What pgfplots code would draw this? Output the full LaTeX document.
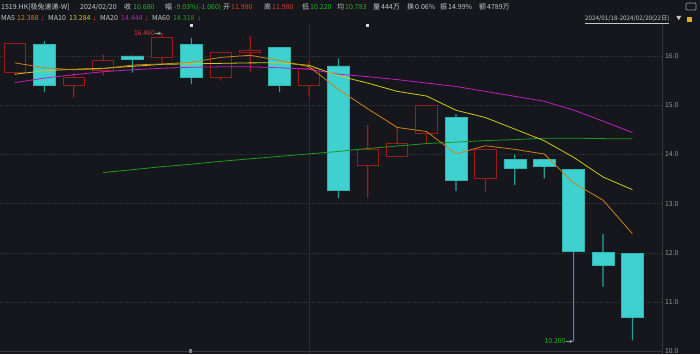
\documentclass[border=0pt]{standalone}
\usepackage{pgfplots}
\pgfplotsset{compat=1.18}
\usepackage{fontspec}
\setmainfont{Noto Sans CJK SC}
\definecolor{bg}{HTML}{15171C}
\definecolor{gridc}{HTML}{2A2D33}
\definecolor{framec}{HTML}{33363C}
\definecolor{upred}{HTML}{9A1B1B}
\definecolor{dncyan}{HTML}{3FD0D0}
\definecolor{dnedge}{HTML}{30B4B4}
\definecolor{wickc}{HTML}{2A9FA0}
\definecolor{maf}{HTML}{CC8418}
\definecolor{mat}{HTML}{CFCB1E}
\definecolor{matw}{HTML}{C21FC2}
\definecolor{mas}{HTML}{1E9A1E}
\definecolor{txt}{HTML}{C8C8C8}
\definecolor{tgreen}{HTML}{22B622}
\definecolor{tred}{HTML}{E0393A}
\definecolor{tickc}{HTML}{9A9A9A}
\definecolor{lockc}{HTML}{E0B020}
\pgfplotsset{common/.style={at={(0pt,0pt)}, anchor=south west, scale only axis,
  width=662pt, height=330pt, xmin=0.49, xmax=23.007, ymin=9.943, ymax=16.65}}
\newcommand{\hA}[3]{\node[anchor=base west, inner sep=0pt, text=#2] at (#1,344.5) {#3};}
\newcommand{\hB}[3]{\node[anchor=base west, inner sep=0pt, text=#2] at (#1,333) {#3};}
\begin{document}
\begin{tikzpicture}[x=1pt,y=1pt]
\fill[bg] (0,0) rectangle (700,354);
% frame / grid axis
\begin{axis}[common, axis x line=none, axis y line*=right,
  axis line style={draw=framec},
  ytick={10,11,12,13,14,15,16}, ytick style={draw=none},
  ymajorgrids, grid style={gridc, dash pattern=on 1.5pt off 1.5pt},
  /pgf/number format/assume math mode=true,
  yticklabel={\pgfmathprintnumber[fixed, fixed zerofill, precision=1]{\tick}},
  yticklabel style={font=\fontsize{6.8}{8}\selectfont, text=tickc, inner sep=0pt, anchor=west, xshift=3pt}]
\addplot[draw=none] coordinates {(1,12) (2,12)};
\draw[gridc] (axis cs:11,9.943) -- (axis cs:11,16.65);
\end{axis}
% red wicks
\begin{axis}[common, hide axis, ybar stacked, bar width=1.2pt]
\addplot[draw=none, fill=none] coordinates {(1,15.61) (3,15.16) (4,15.60) (6,15.82) (8,15.50) (9,15.68) (11,15.17) (13,13.11) (14,13.96) (15,14.21) (17,13.24)};
\addplot[draw=none, fill=upred] coordinates {(1,0.65) (3,0.49) (4,0.43) (6,0.64) (8,0.59) (9,0.73) (11,0.73) (13,1.49) (14,0.60) (15,0.78) (17,0.85)};
\end{axis}
% cyan wicks
\begin{axis}[common, hide axis, ybar stacked, bar width=1.2pt]
\addplot[draw=none, fill=none] coordinates {(2,15.27) (5,15.66) (7,15.43) (10,15.27) (12,13.11) (16,13.26) (18,13.38) (19,13.51) (20,10.20) (21,11.31) (22,10.22)};
\addplot[draw=none, fill=wickc] coordinates {(2,1.03) (5,0.34) (7,0.94) (10,0.91) (12,2.84) (16,1.56) (18,0.61) (19,0.39) (20,3.50) (21,1.07) (22,1.76)};
\end{axis}
% red bodies (hollow)
\begin{axis}[common, hide axis, ybar stacked, bar width=21.5pt]
\addplot[draw=none, fill=none] coordinates {(1,15.66) (3,15.40) (4,15.70) (6,15.96) (8,15.57) (9,16.08) (11,15.40) (13,13.78) (14,13.96) (15,14.42) (17,13.50)};
\addplot[draw=upred, fill=bg, line width=1pt] coordinates {(1,0.60) (3,0.17) (4,0.21) (6,0.41) (8,0.50) (9,0.04) (11,0.35) (13,0.31) (14,0.27) (15,0.57) (17,0.59)};
\end{axis}
% cyan bodies
\begin{axis}[common, hide axis, ybar stacked, bar width=22pt]
\addplot[draw=none, fill=none] coordinates {(2,15.40) (5,15.94) (7,15.57) (10,15.41) (12,13.26) (16,13.48) (18,13.72) (19,13.76) (20,12.04) (21,11.74) (22,10.68)};
\addplot[draw=dnedge, fill=dncyan, line width=0.6pt] coordinates {(2,0.84) (5,0.06) (7,0.66) (10,0.77) (12,2.54) (16,1.27) (18,0.18) (19,0.14) (20,1.66) (21,0.26) (22,1.30)};
\end{axis}
% moving averages
\begin{axis}[common, hide axis, clip=false]
\addplot[mas, line width=0.8pt] coordinates {(4,13.63) (5,13.69) (6,13.75) (7,13.80) (8,13.86) (9,13.91) (10,13.96) (11,14.01) (12,14.06) (13,14.12) (14,14.17) (15,14.22) (16,14.25) (17,14.28) (18,14.30) (19,14.33) (20,14.33) (21,14.32) (22,14.318)};
\addplot[matw, line width=0.8pt] coordinates {(1,15.46) (2,15.55) (3,15.62) (4,15.68) (5,15.72) (6,15.75) (7,15.77) (8,15.78) (9,15.78) (10,15.76) (11,15.73) (12,15.63) (13,15.58) (14,15.52) (15,15.45) (16,15.38) (17,15.28) (18,15.18) (19,15.08) (20,14.90) (21,14.676) (22,14.444)};
\addplot[mat, line width=0.8pt] coordinates {(1,15.63) (2,15.70) (3,15.73) (4,15.75) (5,15.79) (6,15.83) (7,15.84) (8,15.85) (9,15.86) (10,15.862) (11,15.811) (12,15.597) (13,15.449) (14,15.281) (15,15.186) (16,14.897) (17,14.749) (18,14.514) (19,14.278) (20,13.941) (21,13.54) (22,13.284)};
\addplot[maf, line width=0.8pt] coordinates {(1,15.86) (2,15.76) (3,15.72) (4,15.74) (5,15.816) (6,15.838) (7,15.872) (8,15.972) (9,16.014) (10,15.908) (11,15.784) (12,15.322) (13,14.926) (14,14.548) (15,14.464) (16,14.01) (17,14.176) (18,14.102) (19,14.008) (20,13.418) (21,13.07) (22,12.388)};
\draw[tickc, line width=0.6pt, -stealth] ([xshift=-7pt]axis cs:6,16.46) -- ([xshift=-0.5pt]axis cs:6,16.46);
\node[anchor=east, inner sep=0pt, text=tred, font=\fontsize{6.8}{8}\selectfont] at ([xshift=-7pt]axis cs:6,16.46) {16.460};
\draw[tickc, line width=0.6pt, -stealth] ([xshift=-8pt]axis cs:20,10.20) -- ([xshift=-0.5pt]axis cs:20,10.20);
\node[anchor=east, inner sep=0pt, text=tgreen, font=\fontsize{6.8}{8}\selectfont] at ([xshift=-8pt]axis cs:20,10.20) {10.200};
\end{axis}
\draw[framec] (0,2.5) -- (662,2.5);
% small markers
\fill[white!85!black] (190,327) rectangle (192.5,329.5);
\fill[white!85!black] (366,327) rectangle (368.5,329.5);
\fill[white!50!black] (189,1) rectangle (192,5);
% header
\begin{scope}[font=\fontsize{7}{8}\selectfont]
\hA{1}{txt}{1519.HK[极兔速递-W]}
\hA{80}{txt}{2024/02/20}
\hA{124}{txt}{收}
\hA{133}{tgreen}{10.680}
\hA{165}{txt}{幅}
\hA{174}{tgreen}{-9.03\%(-1.060)}
\hA{223}{txt}{开}
\hA{231}{tred}{11.980}
\hA{264}{txt}{高}
\hA{272}{tred}{11.980}
\hA{302}{txt}{低}
\hA{310}{tgreen}{10.220}
\hA{337}{txt}{均}
\hA{345}{tgreen}{10.783}
\hA{373}{txt}{量}
\hA{381}{txt}{444万}
\hA{407}{txt}{换}
\hA{415}{txt}{0.06\%}
\hA{440}{txt}{振}
\hA{448}{txt}{14.99\%}
\hA{479}{txt}{额}
\hA{487}{txt}{4789万}
\hB{1}{txt}{MA5}
\hB{17}{maf}{12.388}
\hB{40}{tred}{\fontsize{5}{6}\selectfont↓}
\hB{48}{txt}{MA10}
\hB{69}{mat}{13.284}
\hB{92}{tred}{\fontsize{5}{6}\selectfont↓}
\hB{100}{txt}{MA20}
\hB{121}{matw}{14.444}
\hB{144}{tred}{\fontsize{5}{6}\selectfont↓}
\hB{152}{txt}{MA60}
\hB{173}{mas}{14.318}
\hB{197}{tred}{\fontsize{5}{6}\selectfont↓}
\end{scope}
\node[anchor=base west, inner sep=0pt, text=txt, font=\fontsize{6.2}{7}\selectfont] at (585,333) {\underline{2024/01/18-2024/02/20(22日)}};
\node[anchor=base west, inner sep=0pt, text=txt, font=\fontsize{5.5}{6}\selectfont] at (676,333.5) {▼};
\fill[lockc] (687,332) rectangle (692,337);
\draw[tickc, line width=0.7pt, rounded corners=1pt] (686,344) rectangle (696,351);
\pgfresetboundingbox
\useasboundingbox (0,0) rectangle (700,354);
\end{tikzpicture}
\end{document}
